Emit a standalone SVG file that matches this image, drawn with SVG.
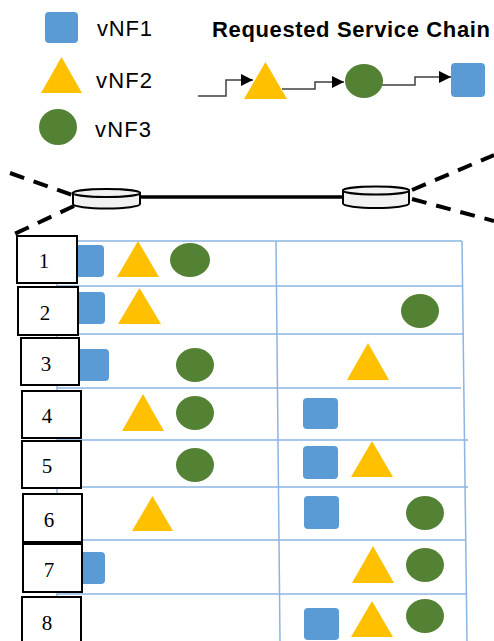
<svg xmlns="http://www.w3.org/2000/svg" width="494" height="641" viewBox="0 0 494 641">
<style>
.sq{fill:#5B9BD5}
.tri{fill:#FFC000}
.cir{fill:#548235}
.lbl{font-family:"Liberation Sans",Arial,sans-serif;font-size:22px;fill:#000}
.ttl{font-family:"Liberation Sans",Arial,sans-serif;font-size:22px;font-weight:bold;fill:#000}
.num{font-family:"Liberation Serif","Times New Roman",serif;font-size:21px;fill:#000;text-anchor:middle}
.box{fill:#fff;stroke:#000;stroke-width:2}
.grid{stroke:#8DB4E2;stroke-width:1.5;fill:none}
.chain{stroke:#404040;stroke-width:1.5;fill:none}
.dash{stroke:#000;stroke-width:4;stroke-dasharray:15 10;fill:none}
.rtr{fill:#F2F2F2;stroke:#000;stroke-width:2}
</style>
<defs>
<marker id="arr" viewBox="0 0 12 12" refX="12" refY="6" markerWidth="12" markerHeight="12" markerUnits="userSpaceOnUse" orient="auto">
<path d="M0,0 L12,6 L0,12 Z" fill="#000"/>
</marker>
</defs>

<g id="legend">
<rect class="sq" x="45" y="12" width="33" height="31" rx="4"/>
<text class="lbl" x="97" y="36" textLength="55">vNF1</text>
<polygon class="tri" points="61.5,57 82,93 41,93"/>
<text class="lbl" x="96" y="88" textLength="56">vNF2</text>
<ellipse class="cir" cx="58" cy="127" rx="19" ry="18"/>
<text class="lbl" x="95" y="137" textLength="56">vNF3</text>
</g>

<g id="service-chain">
<text class="ttl" x="212" y="37" textLength="278">Requested Service Chain</text>
<polygon class="tri" points="265.5,62 287,99 244,99"/>
<ellipse class="cir" cx="364" cy="81" rx="19" ry="17"/>
<rect class="sq" x="451" y="63" width="34" height="34" rx="4"/>
</g>

<g id="connectors">
<polyline class="chain" points="198,96 226,96 226,80 253,80" marker-end="url(#arr)"/>
<polyline class="chain" points="282,89 315,89 315,82 344,82" marker-end="url(#arr)"/>
<polyline class="chain" points="382,85 415,85 415,77 451,77" marker-end="url(#arr)"/>
<line x1="140" y1="197" x2="343" y2="197" stroke="#000" stroke-width="3.5"/>
<line class="dash" x1="10" y1="173" x2="72" y2="195"/>
<line class="dash" x1="74" y1="206" x2="10" y2="236"/>
<line class="dash" x1="412" y1="190" x2="494" y2="155"/>
<line class="dash" x1="412" y1="199" x2="494" y2="221"/>
</g>

<g id="router-left">
<path class="rtr" d="M73,193 L73,204 A33.5,4.5 0 0 0 140,204 L140,193 Z"/>
<ellipse class="rtr" cx="106.5" cy="193" rx="33.5" ry="4"/>
</g>
<g id="router-right">
<path class="rtr" d="M343,190.5 L343,203.5 A33,4.5 0 0 0 409,203.5 L409,190.5 Z"/>
<ellipse class="rtr" cx="376" cy="190.5" rx="33" ry="4"/>
</g>

<g id="table">
<line class="grid" x1="57" y1="241" x2="462" y2="241"/>
<line class="grid" x1="57" y1="286" x2="463" y2="286"/>
<line class="grid" x1="57" y1="334" x2="463" y2="334"/>
<line class="grid" x1="57" y1="388" x2="461" y2="388"/>
<line class="grid" x1="57" y1="440" x2="468" y2="440"/>
<line class="grid" x1="57" y1="487" x2="468" y2="487"/>
<line class="grid" x1="57" y1="540" x2="466" y2="540"/>
<line class="grid" x1="57" y1="594" x2="466" y2="594"/>
<line class="grid" x1="57" y1="241" x2="57" y2="641"/>
<line class="grid" x1="276" y1="241" x2="280" y2="641"/>
<line class="grid" x1="462" y1="241" x2="467" y2="641"/>
</g>

<g id="row1">
<rect class="sq" x="72" y="245" width="32" height="32" rx="4"/>
<polygon class="tri" points="138,241 159,277 117,277"/>
<ellipse class="cir" cx="190" cy="260" rx="20" ry="17"/>
<rect class="box" x="17" y="236" width="60" height="47"/>
<text class="num" x="44" y="268">1</text>
</g>
<g id="row2">
<rect class="sq" x="73" y="292" width="32" height="32" rx="4"/>
<polygon class="tri" points="139.5,288 161,324 118,324"/>
<ellipse class="cir" cx="420" cy="311" rx="19" ry="17"/>
<rect class="box" x="18" y="287" width="60" height="48"/>
<text class="num" x="45" y="320">2</text>
</g>
<g id="row3">
<rect class="sq" x="77" y="349" width="32" height="32" rx="4"/>
<ellipse class="cir" cx="195" cy="365" rx="19" ry="17"/>
<polygon class="tri" points="368,343 389,380 347,380"/>
<rect class="box" x="21" y="338" width="58" height="47"/>
<text class="num" x="46" y="371">3</text>
</g>
<g id="row4">
<polygon class="tri" points="143,394 164,431 122,431"/>
<ellipse class="cir" cx="195" cy="413" rx="19" ry="17"/>
<rect class="sq" x="303" y="398" width="35" height="31" rx="4"/>
<rect class="box" x="22" y="391" width="59" height="47"/>
<text class="num" x="47" y="423">4</text>
</g>
<g id="row5">
<ellipse class="cir" cx="195" cy="465" rx="19" ry="17"/>
<rect class="sq" x="303" y="446" width="35" height="33" rx="4"/>
<polygon class="tri" points="372,441 393,477 351,477"/>
<rect class="box" x="22" y="441" width="59" height="47"/>
<text class="num" x="47" y="473">5</text>
</g>
<g id="row6">
<polygon class="tri" points="152.5,496 173,531 132,531"/>
<rect class="sq" x="304" y="496" width="35" height="33" rx="4"/>
<ellipse class="cir" cx="425" cy="513" rx="19" ry="17"/>
<rect class="box" x="23" y="494" width="59" height="48"/>
<text class="num" x="49" y="527">6</text>
</g>
<g id="row7">
<rect class="sq" x="73" y="552" width="32" height="32" rx="4"/>
<polygon class="tri" points="373,546 394,583 352,583"/>
<ellipse class="cir" cx="425" cy="565" rx="19" ry="17"/>
<rect class="box" x="23" y="544" width="59" height="48"/>
<text class="num" x="49" y="577">7</text>
</g>
<g id="row8">
<rect class="sq" x="304" y="608" width="35" height="32" rx="4"/>
<polygon class="tri" points="372,601 393,637 351,637"/>
<ellipse class="cir" cx="425" cy="616" rx="19" ry="17"/>
<rect class="box" x="22" y="597" width="59" height="50"/>
<text class="num" x="47" y="630">8</text>
</g>
</svg>
